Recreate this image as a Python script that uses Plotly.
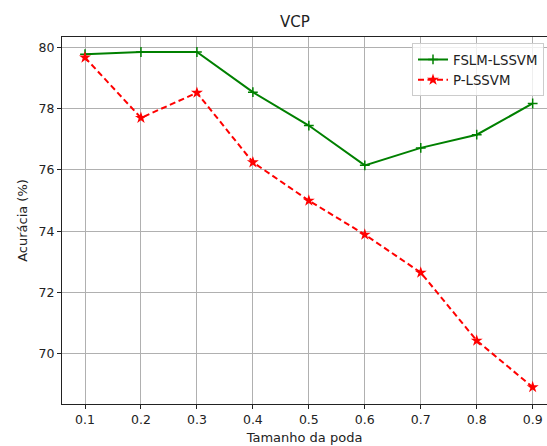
import plotly.graph_objects as go

x_vals = [0.1, 0.2, 0.3, 0.4, 0.5, 0.6, 0.7, 0.8, 0.9]
fslm_lssvm = [79.78, 79.85, 79.85, 78.54, 77.45, 76.15, 76.72, 77.15, 78.17]
p_lssvm = [79.67, 77.70, 78.52, 76.25, 75.00, 73.89, 72.65, 70.43, 68.91]
x_ticks = [0.1, 0.2, 0.3, 0.4, 0.5, 0.6, 0.7, 0.8, 0.9]
x_tick_text = ["0.1", "0.2", "0.3", "0.4", "0.5", "0.6", "0.7", "0.8", "0.9"]
y_ticks = [70, 72, 74, 76, 78, 80]

FONT = "DejaVu Sans"
W, H = 547, 446
L, T, B = 62, 37, 42

fig = go.Figure()
fig.add_trace(go.Scatter(
    x=x_vals, y=fslm_lssvm, name="FSLM-LSSVM", mode="lines+markers",
    line=dict(color="#008000", width=2),
    marker=dict(symbol="cross-thin", size=7, line=dict(color="#008000", width=1.5)),
    legendgroup="a",
))
fig.add_trace(go.Scatter(
    x=x_vals, y=p_lssvm, name="P-LSSVM", mode="lines+markers",
    line=dict(color="#ff0000", width=2, dash="6px,3.5px"),
    marker=dict(symbol="star", size=9, color="#ff0000"),
    legendgroup="b",
))

axis_common = dict(
    showgrid=True, gridcolor="#b0b0b0", gridwidth=0.8,
    showline=True, linecolor="#222222", linewidth=1,
    ticks="outside", ticklen=4, tickwidth=1, tickcolor="#222222",
    tickfont=dict(family=FONT, size=12.5, color="#222222"),
    zeroline=False,
)

fig.update_layout(
    width=W, height=H,
    margin=dict(l=L, r=0, t=T, b=B, pad=0),
    paper_bgcolor="white", plot_bgcolor="white",
    font=dict(family=FONT, color="#222222"),
    title=dict(text="VCP", x=295 / W, xref="container", xanchor="center",
               y=1 - 21.7 / H, yref="container", yanchor="middle",
               font=dict(family=FONT, size=15, color="#222222")),
    xaxis=dict(range=[0.0589, 0.9256], tickvals=x_ticks, ticktext=x_tick_text,
               mirror=True,
               title=dict(text="Tamanho da poda", standoff=6,
                          font=dict(family=FONT, size=13, color="#222222")),
               **axis_common),
    yaxis=dict(range=[68.36, 80.34], tickvals=y_ticks, mirror=False,
               title=dict(text="Acurácia (%)", standoff=8,
                          font=dict(family=FONT, size=13, color="#222222")),
               **axis_common),
    legend=dict(x=(412 - L) / (W - L), y=(404.3 - 43.3) / 367.3,
                xanchor="left", yanchor="top",
                bgcolor="rgba(255,255,255,0.8)", bordercolor="#cccccc", borderwidth=1,
                font=dict(family=FONT, size=13.3, color="#222222"),
                tracegroupgap=0, itemwidth=30),
    showlegend=True,
)

fig.write_html("out.html")
